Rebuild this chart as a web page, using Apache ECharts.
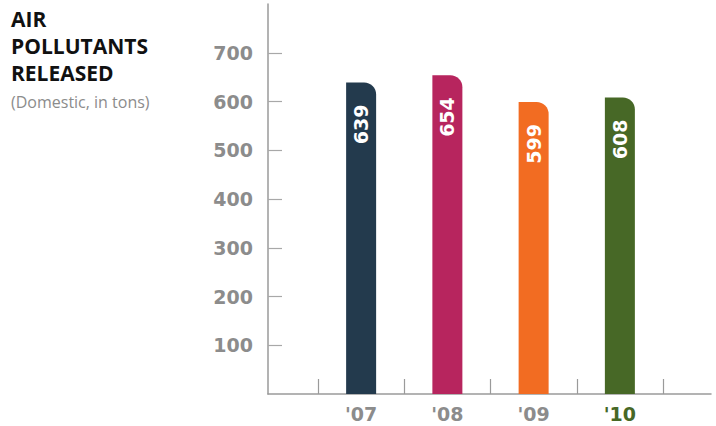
<!DOCTYPE html>
<html>
<head>
<meta charset="utf-8">
<script src="https://cdn.jsdelivr.net/npm/echarts@6/dist/echarts.min.js"></script>
<style>
  html, body { margin: 0; padding: 0; background: #fff; }
  #main { width: 716px; height: 426px; }
</style>
</head>
<body>
<div id="main"></div>
<script>
// chart data
const years = ["'07", "'08", "'09", "'10"];
const tons = [639, 654, 599, 608];
const barColors = ['#233a4d', '#b7255e', '#f26c22', '#476826'];
const yearColors = ['#8c8c8c', '#8c8c8c', '#8c8c8c', '#476826'];
const yTicks = [100, 200, 300, 400, 500, 600, 700];

const grey = '#8c8c8c';
const numFont = 'DejaVu Sans';

var myChart = echarts.init(document.getElementById('main'), null, {renderer: 'svg'});

myChart.setOption({
  animation: false,
  title: {
    text: 'AIR\nPOLLUTANTS\nRELEASED',
    subtext: '(Domestic, in tons)',
    left: 11,
    top: 5,
    padding: 0,
    itemGap: 7,
    textStyle: { fontFamily: 'Open Sans', fontWeight: 'bold', fontSize: 21, lineHeight: 27, color: '#111' },
    subtextStyle: { fontFamily: 'Open Sans', fontSize: 16, lineHeight: 18, color: grey }
  },
  grid: [
    { left: 318, right: 53, top: 4, bottom: 32 },
    { left: 268, right: 5, top: 4, bottom: 32 }
  ],
  xAxis: [
    {
      type: 'category',
      gridIndex: 0,
      data: years,
      axisLine: { show: false },
      axisTick: { show: true, inside: true, length: 15, lineStyle: { color: '#9a9a9a', width: 1.2 } },
      axisLabel: {
        margin: 10,
        fontFamily: numFont,
        fontWeight: 'bold',
        fontSize: 19,
        color: function (v, i) { return yearColors[i]; }
      }
    },
    {
      type: 'value',
      gridIndex: 1,
      axisLine: { show: true, lineStyle: { color: '#9a9a9a', width: 1.5 } },
      axisTick: { show: false },
      axisLabel: { show: false },
      splitLine: { show: false }
    }
  ],
  yAxis: [
    {
      type: 'value',
      gridIndex: 0,
      min: 0,
      max: 800,
      interval: 100,
      show: false
    },
    {
      type: 'value',
      gridIndex: 1,
      min: 0,
      max: 800,
      interval: 100,
      axisLine: { show: true, lineStyle: { color: '#9a9a9a', width: 1.5 } },
      axisTick: { show: true, inside: true, length: 14, customValues: yTicks, lineStyle: { color: '#a8a8a8', width: 1.2 } },
      axisLabel: {
        customValues: yTicks,
        margin: 15,
        fontFamily: numFont,
        fontWeight: 'bold',
        fontSize: 19,
        color: grey
      },
      splitLine: { show: false }
    }
  ],
  series: [{
    type: 'bar',
    xAxisIndex: 0,
    yAxisIndex: 0,
    barWidth: 30,
    data: tons.map(function (v, i) {
      return { value: v, itemStyle: { color: barColors[i], borderRadius: [0, 12, 0, 0] } };
    }),
    label: {
      show: true,
      position: 'insideTop',
      distance: 22,
      rotate: 90,
      align: 'right',
      verticalAlign: 'middle',
      fontFamily: numFont,
      fontWeight: 'bold',
      fontSize: 19,
      color: '#fff'
    }
  }]
});
</script>
</body>
</html>
